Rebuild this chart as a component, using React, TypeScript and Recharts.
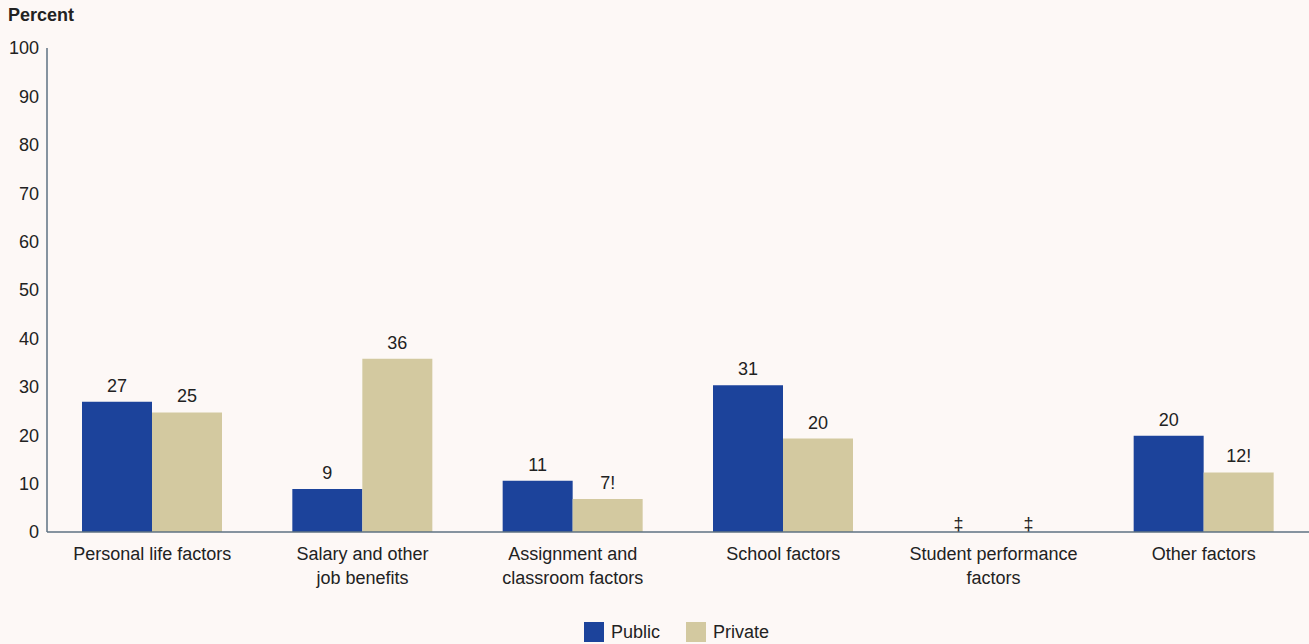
import { BarChart, Bar, XAxis, YAxis, LabelList } from 'recharts';

// Reasons teachers gave for leaving — percent, by sector
const categories = [
  'Personal life factors',
  'Salary and other|job benefits',
  'Assignment and|classroom factors',
  'School factors',
  'Student performance|factors',
  'Other factors',
];
const publicValues = [26.9, 8.9, 10.6, 30.3, 0, 19.9];
const privateValues = [24.7, 35.8, 6.8, 19.3, 0, 12.3];
const publicLabels = ['27', '9', '11', '31', '‡', '20'];
const privateLabels = ['25', '36', '7!', '20', '‡', '12!'];
const yTicks = [0, 10, 20, 30, 40, 50, 60, 70, 80, 90, 100];

const BLUE = '#1C439B';
const TAN = '#D3C9A0';
const BG = '#FDF8F6';
const AXIS = '#5E7282';
const TEXT = '#222222';
const FONT = '"Liberation Sans", Arial, sans-serif';
const FS = 18;
const BAR_SIZE = 70;
const SUPPRESSED = '‡';

const data = categories.map((c, i) => ({
  name: c,
  pub: publicValues[i],
  priv: privateValues[i],
  pubLabel: publicLabels[i],
  privLabel: privateLabels[i],
}));

// category label; zero-height bars get no LabelList entry, so the
// "reporting standards not met" marks are drawn here, above the axis
function CategoryTick({ x, y, payload, index }: any) {
  const lines = String(payload.value).split('|');
  const marks = [
    { label: publicLabels[index], dx: -BAR_SIZE / 2 },
    { label: privateLabels[index], dx: BAR_SIZE / 2 },
  ].filter((m) => m.label === SUPPRESSED);
  return (
    <g>
      <text x={x} y={y} textAnchor="middle" fontSize={FS} fill={TEXT} fontFamily={FONT}>
        {lines.map((l, i) => (
          <tspan key={i} x={x} dy={i === 0 ? 20 : 24}>
            {l}
          </tspan>
        ))}
      </text>
      {marks.map((m, i) => (
        <text
          key={i}
          x={x + m.dx}
          y={y - 10}
          textAnchor="middle"
          fontSize={FS}
          fill={TEXT}
          fontFamily={FONT}
        >
          {m.label}
        </text>
      ))}
    </g>
  );
}

function BarValueLabel(props: any) {
  const { x, y, width, value } = props;
  if (value == null) return null;
  return (
    <text
      x={Number(x) + Number(width) / 2}
      y={Number(y) - 10}
      textAnchor="middle"
      fontSize={FS}
      fill={TEXT}
      fontFamily={FONT}
    >
      {value}
    </text>
  );
}

function Legend2() {
  const items = [
    { label: 'Public', color: BLUE },
    { label: 'Private', color: TAN },
  ];
  return (
    <div
      style={{
        position: 'absolute',
        top: 622,
        left: 0,
        width: 1309,
        display: 'flex',
        justifyContent: 'center',
        gap: 26,
        fontFamily: FONT,
        fontSize: FS,
        color: TEXT,
        paddingLeft: 44,
        boxSizing: 'border-box',
      }}
    >
      {items.map((it) => (
        <div key={it.label} style={{ display: 'flex', alignItems: 'center', gap: 7 }}>
          <div style={{ width: 20, height: 20, background: it.color }} />
          <span style={{ lineHeight: '20px' }}>{it.label}</span>
        </div>
      ))}
    </div>
  );
}

export default function App() {
  return (
    <div
      style={{
        position: 'absolute',
        top: 0,
        left: 0,
        width: 1309,
        height: 644,
        background: BG,
        overflow: 'hidden',
      }}
    >
      <div
        style={{
          position: 'absolute',
          top: 5,
          left: 8,
          fontFamily: FONT,
          fontWeight: 'bold',
          fontSize: 18,
          color: TEXT,
        }}
      >
        Percent
      </div>
      <BarChart
        width={1309}
        height={644}
        data={data}
        barGap={0}
        margin={{ top: 48, right: 0, left: 0, bottom: 42 }}
      >
        <XAxis
          dataKey="name"
          tick={<CategoryTick />}
          tickLine={false}
          axisLine={{ stroke: AXIS, strokeWidth: 1.5 }}
          interval={0}
          height={70}
        />
        <YAxis
          domain={[0, 100]}
          ticks={yTicks}
          width={47}
          tickLine={false}
          axisLine={{ stroke: AXIS, strokeWidth: 1.5 }}
          tick={{ fill: TEXT, fontSize: FS, fontFamily: FONT }}
          tickMargin={2}
        />
        <Bar dataKey="pub" fill={BLUE} barSize={BAR_SIZE} isAnimationActive={false}>
          <LabelList dataKey="pubLabel" content={BarValueLabel} />
        </Bar>
        <Bar dataKey="priv" fill={TAN} barSize={BAR_SIZE} isAnimationActive={false}>
          <LabelList dataKey="privLabel" content={BarValueLabel} />
        </Bar>
      </BarChart>
      <Legend2 />
    </div>
  );
}
